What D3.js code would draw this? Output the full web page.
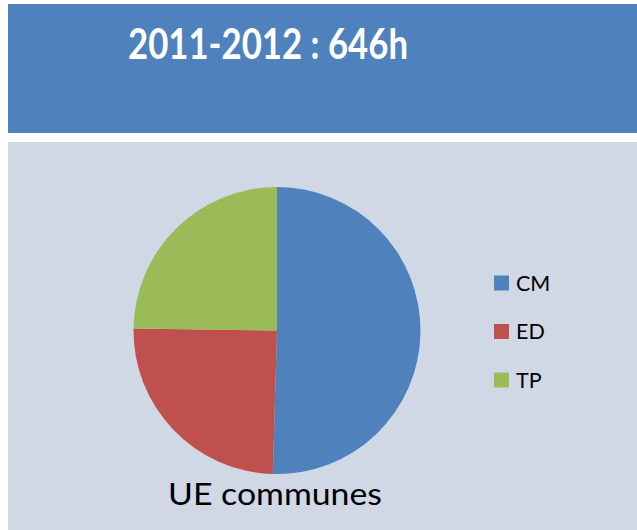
<!DOCTYPE html>
<html>
<head>
<meta charset="utf-8">
<script src="https://cdn.jsdelivr.net/npm/d3@7"></script>
<style>
  body { margin: 0; background: #ffffff; }
  svg { display: block; }
</style>
</head>
<body>
<div id="container"></div>
<script>
const WIDTH = 637;
const HEIGHT = 530;

// data (hours, total 646h)
const categories = ["CM", "ED", "TP"];
const hours = [326, 160, 160];
const colors = ["#4f81bd", "#c0504d", "#9bbb59"];
const title = "2011-2012 : 646h";
const subtitle = "UE communes";

const PIE_CX = 277;
const PIE_CY = 330.5;
const PIE_R = 143.5;

var translate = function (x, y) {
    return "translate(" + x + "," + y + ")";
};

var createChart = function () {
    var svg = d3.select("#container")
        .append("svg")
        .attr("width", WIDTH)
        .attr("height", HEIGHT)
        .style("font-family", "Lato, 'Open Sans', sans-serif");

    // header band
    svg.append("rect")
        .attr("x", 8).attr("y", 4)
        .attr("width", WIDTH - 8).attr("height", 129)
        .attr("fill", "#4f81bd");

    svg.append("text")
        .attr("x", 128).attr("y", 59)
        .attr("fill", "#ffffff")
        .attr("font-weight", "bold")
        .attr("font-size", 42)
        .attr("textLength", 280)
        .attr("lengthAdjust", "spacingAndGlyphs")
        .text(title);

    // chart panel
    svg.append("rect")
        .attr("x", 8).attr("y", 142)
        .attr("width", WIDTH - 8).attr("height", HEIGHT - 142)
        .attr("fill", "#d0d8e6");

    var pie = d3.pie().sort(null).value(function (d) { return d; });
    var arc = d3.arc().innerRadius(0).outerRadius(PIE_R);
    var color = d3.scaleOrdinal().domain(categories).range(colors);

    var g = svg.append("g").attr("transform", translate(PIE_CX, PIE_CY));
    g.selectAll("path")
        .data(pie(hours))
        .enter()
        .append("path")
        .attr("d", arc)
        .attr("fill", function (d, i) { return color(categories[i]); });

    // legend
    var y = d3.scalePoint().domain(categories).range([283, 380]);
    var legend = svg.append("g").selectAll("g")
        .data(categories)
        .enter()
        .append("g")
        .attr("transform", function (d) { return translate(494, y(d)); });

    legend.append("rect")
        .attr("x", 0).attr("y", -7.5)
        .attr("width", 15).attr("height", 15)
        .attr("fill", function (d) { return color(d); });

    legend.append("text")
        .attr("x", 22).attr("y", 7.5)
        .attr("font-size", 21.5)
        .attr("fill", "#000000")
        .text(function (d) { return d; });

    svg.append("text")
        .attr("x", 168).attr("y", 505)
        .attr("font-size", 31)
        .attr("fill", "#000000")
        .attr("textLength", 214)
        .attr("lengthAdjust", "spacingAndGlyphs")
        .text(subtitle);
};

window.onload = createChart;
</script>
</body>
</html>
